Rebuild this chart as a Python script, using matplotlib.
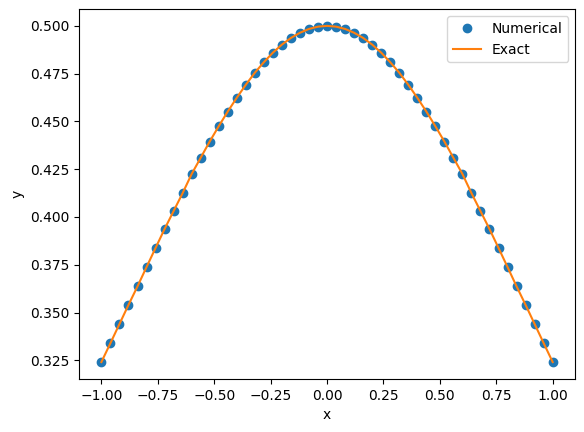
import numpy as np
import matplotlib
matplotlib.use('Agg')
import matplotlib.pyplot as plt

# x grid: 51 points from -1 to 1
x = np.linspace(-1.0, 1.0, 51)

# values (left half, x = -1 ... 0)
y_left = [0.3241, 0.3340, 0.3440, 0.3540, 0.3637, 0.3738, 0.3838, 0.3937,
          0.4031, 0.4125, 0.4225, 0.4310, 0.4395, 0.4475, 0.4552, 0.4624,
          0.4692, 0.4755, 0.4810, 0.4860, 0.4902, 0.4937, 0.4964, 0.4984,
          0.4996, 0.5000]
# symmetric about x = 0
y_num = np.array(y_left + y_left[-2::-1])
y_exact = y_num.copy()

fig, ax = plt.subplots(figsize=(5.84, 4.32), dpi=100)
fig.subplots_adjust(left=0.135, right=0.985, top=0.979, bottom=0.123)

ax.plot(x, y_num, 'o', label='Numerical')
ax.plot(x, y_exact, '-', label='Exact')
ax.set_xlabel('x')
ax.set_ylabel('y')
ax.legend()

plt.savefig('out.png')
